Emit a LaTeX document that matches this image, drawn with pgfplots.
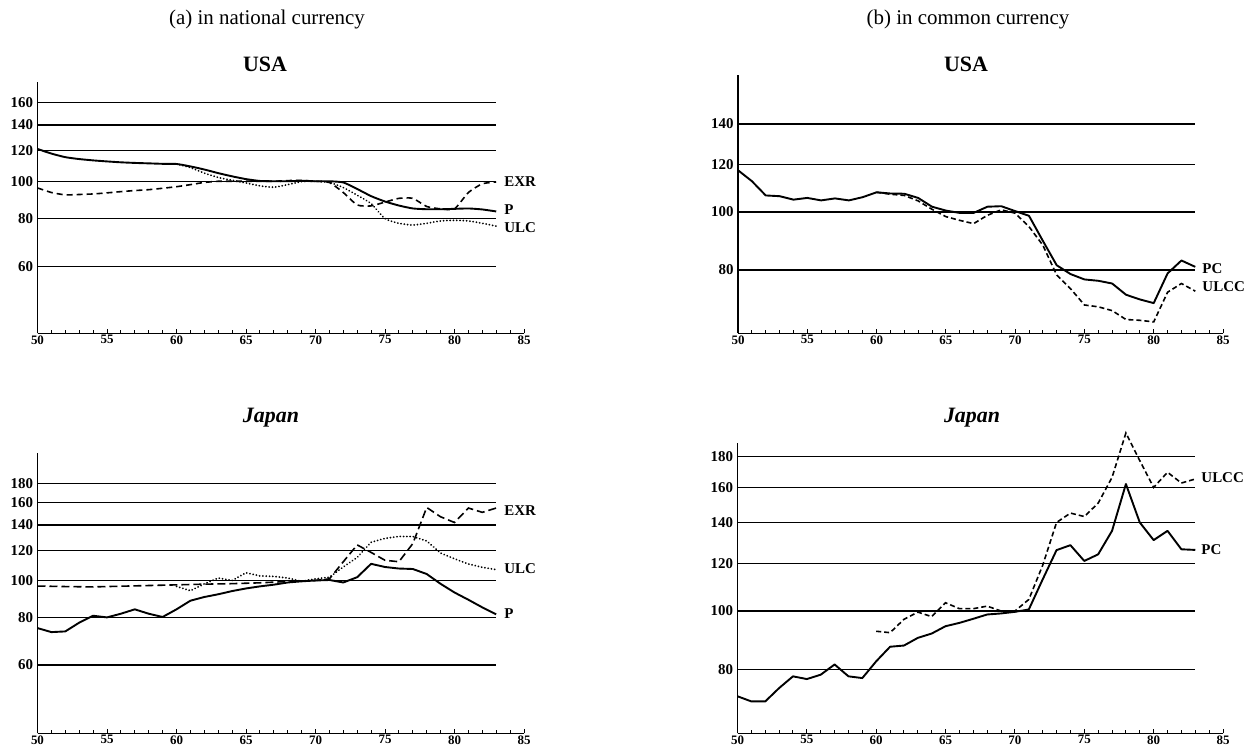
\documentclass[border=0pt]{standalone}
\usepackage{pgfplots}
\pgfplotsset{compat=1.18}
\usepackage{fontspec}
\setmainfont{Liberation Serif}
\tikzset{
  gridline/.style={black, line width=1.3bp},
  sol/.style={black, line width=1.9bp, line join=round},
  dsh/.style={black, line width=1.6bp, dash pattern=on 6bp off 4bp},
  dot/.style={black, line width=1.9bp, line cap=round, dash pattern=on 0.1bp off 3.2bp},
  lab/.style={anchor=west, font=\fontsize{15}{15}\selectfont\bfseries, inner sep=0pt},
}
\pgfplotsset{
  every axis/.append style={
    scale only axis, anchor=south west,
    xmin=50, xmax=85, clip=false,
    axis x line*=bottom, axis y line*=left,
    axis line style={-, line width=1.3bp},
    xtick={50,55,...,85}, minor x tick num=4,
    xticklabels={50,55,60,65,70,75,80,85},
    tick align=inside,
    major tick length=4.5bp, minor tick length=3bp,
    tick style={black, line width=1bp},
    ytick style={draw=none},
    xticklabel style={font=\fontsize{13}{13}\selectfont\bfseries, inner sep=2bp},
    yticklabel style={font=\fontsize{15}{15}\selectfont\bfseries, xshift=-1bp},
  },
}
\begin{document}
\begin{tikzpicture}
\useasboundingbox (0bp,0bp) rectangle (1255bp,752bp);
\node[anchor=base, font=\fontsize{21}{21}\selectfont] at (267bp,727bp) {(a) in national currency};
\node[anchor=base, font=\fontsize{21}{21}\selectfont] at (968bp,727bp) {(b) in common currency};
\node[anchor=base, font=\fontsize{22}{22}\selectfont\bfseries] at (265bp,680bp) {USA};
\node[anchor=base, font=\fontsize{22}{22}\selectfont\bfseries] at (966bp,680bp) {USA};
\node[anchor=base, font=\fontsize{22}{22}\selectfont\bfseries\itshape] at (271bp,329bp) {Japan};
\node[anchor=base, font=\fontsize{22}{22}\selectfont\bfseries\itshape] at (972bp,329bp) {Japan};

% ---------------- (a) USA ----------------
\begin{axis}[ymode=log, at={(37.5bp,418.7bp)}, width=486.5bp, height=251.6bp,
  ymin=40.3, ymax=181.4,
  ytick={60,80,100,120,140,160}, yticklabels={60,80,100,120,140,160}]
\pgfplotsinvokeforeach{60,80,100,120,140,160}{\addplot[gridline, forget plot] coordinates {(50,#1) (83,#1)};}
\addplot[sol, smooth, tension=0.35] table {
50 121.3
51 118.0
52 115.5
53 114.2
54 113.3
55 112.6
56 112.0
57 111.6
58 111.3
59 111.0
60 110.9
61 109.3
62 107.3
63 105.0
64 103.0
65 101.3
66 100.2
67 100.0
68 100.0
69 100.3
70 100.0
71 100.0
72 99.3
73 95.5
74 91.5
75 88.6
76 86.5
77 85.0
78 84.6
79 84.6
80 84.8
81 85.0
82 84.5
83 83.5
};
\addplot[dsh, smooth, tension=0.35] table {
50 96.1
51 93.5
52 92.2
53 92.4
54 92.7
55 93.3
56 94.0
57 94.6
58 95.1
59 95.9
60 96.8
61 98.0
62 99.3
63 100.0
64 100.0
65 100.0
66 100.0
67 100.0
68 100.4
69 100.5
70 100.0
71 99.3
72 93.5
73 86.8
74 86.3
75 88.3
76 90.3
77 90.3
78 86.0
79 84.8
80 84.8
81 93.5
82 98.5
83 99.6
};
\addplot[dot, smooth, tension=0.35] table {
60 110.9
61 108.5
62 105.0
63 102.3
64 100.6
65 99.0
66 97.3
67 96.5
68 98.0
69 99.8
70 100.0
71 99.3
72 96.3
73 92.0
74 87.5
75 80.0
76 77.8
77 77.0
78 77.8
79 78.9
80 79.2
81 78.9
82 77.8
83 76.5
};
\node[lab, xshift=8bp] at (axis cs:83,100) {EXR};
\node[lab, xshift=8bp] at (axis cs:83,84.4) {P};
\node[lab, xshift=8bp] at (axis cs:83,75.7) {ULC};
\end{axis}

% ---------------- (b) USA ----------------
\begin{axis}[ymode=log, at={(738bp,418.7bp)}, width=485bp, height=258.3bp,
  ymin=62.8, ymax=169,
  ytick={80,100,120,140}, yticklabels={80,100,120,140}]
\pgfplotsinvokeforeach{80,100,120,140}{\addplot[gridline, forget plot] coordinates {(50,#1) (83,#1)};}
\addplot[sol] table {
50 117.3
51 112.5
52 106.5
53 106.2
54 104.8
55 105.5
56 104.5
57 105.3
58 104.5
59 105.8
60 107.8
61 107.3
62 107.2
63 105.5
64 102.0
65 100.5
66 99.6
67 99.6
68 102.0
69 102.2
70 100.3
71 98.5
72 89.5
73 81.5
74 78.8
75 77.2
76 76.8
77 76.0
78 72.8
79 71.5
80 70.5
81 79.0
82 83.0
83 81.0
};
\addplot[dsh, dash pattern=on 5bp off 3bp] table {
60 107.8
61 107.0
62 106.5
63 104.3
64 101.0
65 98.2
66 96.8
67 95.6
68 98.7
69 100.8
70 99.5
71 94.5
72 88.0
73 78.5
74 74.5
75 70.0
76 69.5
77 68.5
78 66.2
79 66.0
80 65.6
81 73.5
82 76.0
83 73.8
};
\node[lab, xshift=7bp] at (axis cs:83,80.4) {PC};
\node[lab, xshift=7bp] at (axis cs:83,75) {ULCC};
\end{axis}

% ---------------- (a) Japan ----------------
\begin{axis}[ymode=log, at={(37.5bp,18.7bp)}, width=486.5bp, height=280.6bp,
  ymin=39.7, ymax=216.6,
  ytick={60,80,100,120,140,160,180}, yticklabels={60,80,100,120,140,160,180}]
\pgfplotsinvokeforeach{60,80,100,120,140,160,180}{\addplot[gridline, forget plot] coordinates {(50,#1) (83,#1)};}
\addplot[sol] table {
50 75.0
51 73.2
52 73.5
53 77.5
54 80.8
55 80.0
56 81.8
57 84.0
58 81.8
59 80.2
60 84.0
61 88.5
62 90.5
63 92.0
64 93.8
65 95.3
66 96.5
67 97.5
68 98.8
69 99.5
70 100.0
71 100.3
72 98.8
73 102.0
74 110.6
75 108.5
76 107.5
77 107.2
78 104.0
79 98.0
80 93.0
81 89.0
82 85.0
83 81.5
};
\addplot[dsh, dash pattern=on 8bp off 4bp] table {
50 96.7
52 96.4
54 96.2
56 96.6
58 97.0
60 97.4
62 97.8
64 98.1
66 98.6
68 99.4
70 100.0
71 101.0
72 112.0
73 124.0
74 118.5
75 113.0
76 112.0
77 125.0
78 155.5
79 147.0
80 142.0
81 155.0
82 151.0
83 155.0
};
\addplot[dot] table {
60 96.5
61 94.0
62 98.0
63 101.5
64 100.0
65 104.8
66 102.8
67 102.5
68 101.5
69 99.5
70 101.0
71 102.0
72 108.5
73 115.0
74 126.0
75 129.0
76 130.5
77 130.5
78 127.0
79 118.0
80 114.0
81 110.5
82 108.3
83 106.8
};
\node[lab, xshift=8bp] at (axis cs:83,152.7) {EXR};
\node[lab, xshift=8bp] at (axis cs:83,107.3) {ULC};
\node[lab, xshift=8bp] at (axis cs:83,81.8) {P};
\end{axis}

% ---------------- (b) Japan ----------------
\begin{axis}[ymode=log, at={(737.5bp,18.7bp)}, width=485.5bp, height=290bp,
  ymin=62.8, ymax=189.4,
  ytick={80,100,120,140,160,180}, yticklabels={80,100,120,140,160,180}]
\pgfplotsinvokeforeach{80,100,120,140,160,180}{\addplot[gridline, forget plot] coordinates {(50,#1) (83,#1)};}
\addplot[sol] table {
50 72.3
51 70.9
52 70.9
53 74.6
54 78.0
55 77.2
56 78.5
57 81.6
58 78.0
59 77.5
60 82.6
61 87.3
62 87.7
63 90.3
64 91.8
65 94.4
66 95.6
67 97.1
68 98.7
69 99.1
70 99.7
71 100.6
72 112.8
73 126.1
74 128.5
75 121.0
76 124.1
77 135.7
78 162.2
79 140.1
80 131.0
81 135.7
82 126.5
83 126.2
};
\addplot[dsh, dash pattern=on 5bp off 3bp] table {
60 92.6
61 92.1
62 96.9
63 99.6
64 97.9
65 103.2
66 100.9
67 100.9
68 101.9
69 100.0
70 100.0
71 104.5
72 119.0
73 140.1
74 145.2
75 143.3
76 150.8
77 166.3
78 197.0
79 177.3
80 160.1
81 169.6
82 162.8
83 165.3
};
\node[lab, xshift=6bp] at (axis cs:83,166.3) {ULCC};
\node[lab, xshift=6bp] at (axis cs:83,126.5) {PC};
\end{axis}
\end{tikzpicture}
\end{document}
